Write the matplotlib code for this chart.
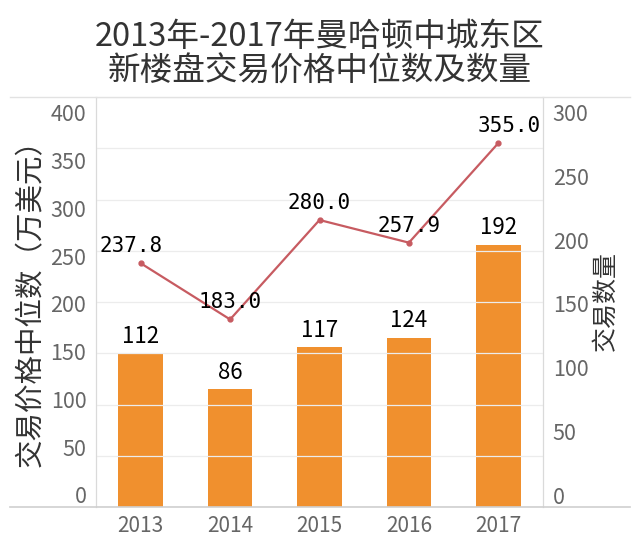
import matplotlib
matplotlib.use("Agg")
import matplotlib.pyplot as plt
from matplotlib.lines import Line2D

plt.rcParams['font.family'] = ['Noto Sans CJK SC', 'DejaVu Sans']

years = ['2013', '2014', '2015', '2016', '2017']
median_price = [237.8, 183.0, 280.0, 257.9, 355.0]   # 万美元
deal_count = [112, 86, 117, 124, 192]

price_ticks = [0, 50, 100, 150, 200, 250, 300, 350, 400]
count_ticks = [0, 50, 100, 150, 200, 250, 300]

bar_color = '#F0902E'
line_color = '#C75B61'
tick_color = '#666666'
grid_color = '#ECECEC'

fig = plt.figure(figsize=(6.4, 5.49), dpi=100)
pos = [96 / 640, 1 - 507 / 549, 447 / 640, 410 / 549]

ax = fig.add_axes(pos)          # price (line), left
ax2 = ax.twinx()                # count (bars), right
ax.set_zorder(ax2.get_zorder() + 1)
ax.patch.set_visible(False)

x = list(range(len(years)))

# bars on the right axis
ax2.bar(x, deal_count, width=0.5, color=bar_color, zorder=2)
ax2.set_ylim(0, 300)
for xi, v in zip(x, deal_count):
    ax2.annotate(str(v), (xi, v), xytext=(0, 4), textcoords='offset points',
                 ha='center', va='bottom', fontsize=16, color='black')

# line on the left axis
ax.plot(x, median_price, color=line_color, lw=1.6, marker='o', ms=3.5, zorder=3)
ax.set_ylim(0, 400)
ax.set_xlim(-0.5, len(years) - 0.5)
label_dx = [-7, 0, 0, 0, 8]
for xi, v, dx in zip(x, median_price, label_dx):
    ax.annotate(f'{v:.1f}', (xi, v), xytext=(dx, 5), textcoords='offset points',
                ha='center', va='bottom', fontsize=15, color='black',
                family='DejaVu Sans Mono')

# grid from the price axis
ax.set_yticks(price_ticks)
ax.yaxis.grid(True, color=grid_color, lw=0.9)
ax.set_axisbelow(True)
ax.tick_params(axis='y', left=False, labelleft=False)
ax2.set_yticks(count_ticks)
ax2.tick_params(axis='y', right=False, labelright=False)

ax.set_xticks(x)
ax.set_xticklabels(years, fontsize=15, color=tick_color)
ax.tick_params(axis='x', length=0, pad=6)

for a in (ax, ax2):
    a.spines['top'].set_visible(False)
    a.spines['bottom'].set_visible(False)
    a.spines['left'].set_color('#DADADA')
    a.spines['right'].set_color('#DADADA')

# tick labels are set a bit inside the gridline span, like the source
lab_l = fig.add_axes(pos, frameon=False)
lab_l.set_ylim(-12.6, 416.7)
lab_l.set_yticks(price_ticks)
lab_l.set_xticks([])
lab_l.tick_params(axis='y', length=0, pad=7, labelsize=15.5, labelcolor=tick_color)
lab_l.patch.set_visible(False)

lab_r = fig.add_axes(pos, frameon=False)
lab_r.set_ylim(-9.4, 312.5)
lab_r.set_yticks(count_ticks)
lab_r.set_xticks([])
lab_r.yaxis.tick_right()
lab_r.tick_params(axis='y', length=0, pad=7, labelsize=15.5, labelcolor=tick_color)
lab_r.patch.set_visible(False)

fig.text(31 / 640, 1 - 296 / 549, '交易价格中位数（万美元）', rotation=90,
         ha='center', va='center', fontsize=20.5, color='#333333')
fig.text(606 / 640, 1 - 301 / 549, '交易数量', rotation=90,
         ha='center', va='center', fontsize=18, color='#333333')

# long frame lines above and below the plot
fig.add_artist(Line2D([10 / 640, 630 / 640], [1 - 97 / 549] * 2, color='#E2E2E2', lw=1))
fig.add_artist(Line2D([10 / 640, 630 / 640], [1 - 507 / 549] * 2, color='#CFCFCF', lw=1.2))

fig.text(0.5, 1 - 37 / 549, '2013年-2017年曼哈顿中城东区', ha='center', va='center',
         fontsize=23.5, color='#333333')
fig.text(0.5, 1 - 72 / 549, '新楼盘交易价格中位数及数量', ha='center', va='center',
         fontsize=23.5, color='#333333')

fig.savefig('out.png', dpi=100)
